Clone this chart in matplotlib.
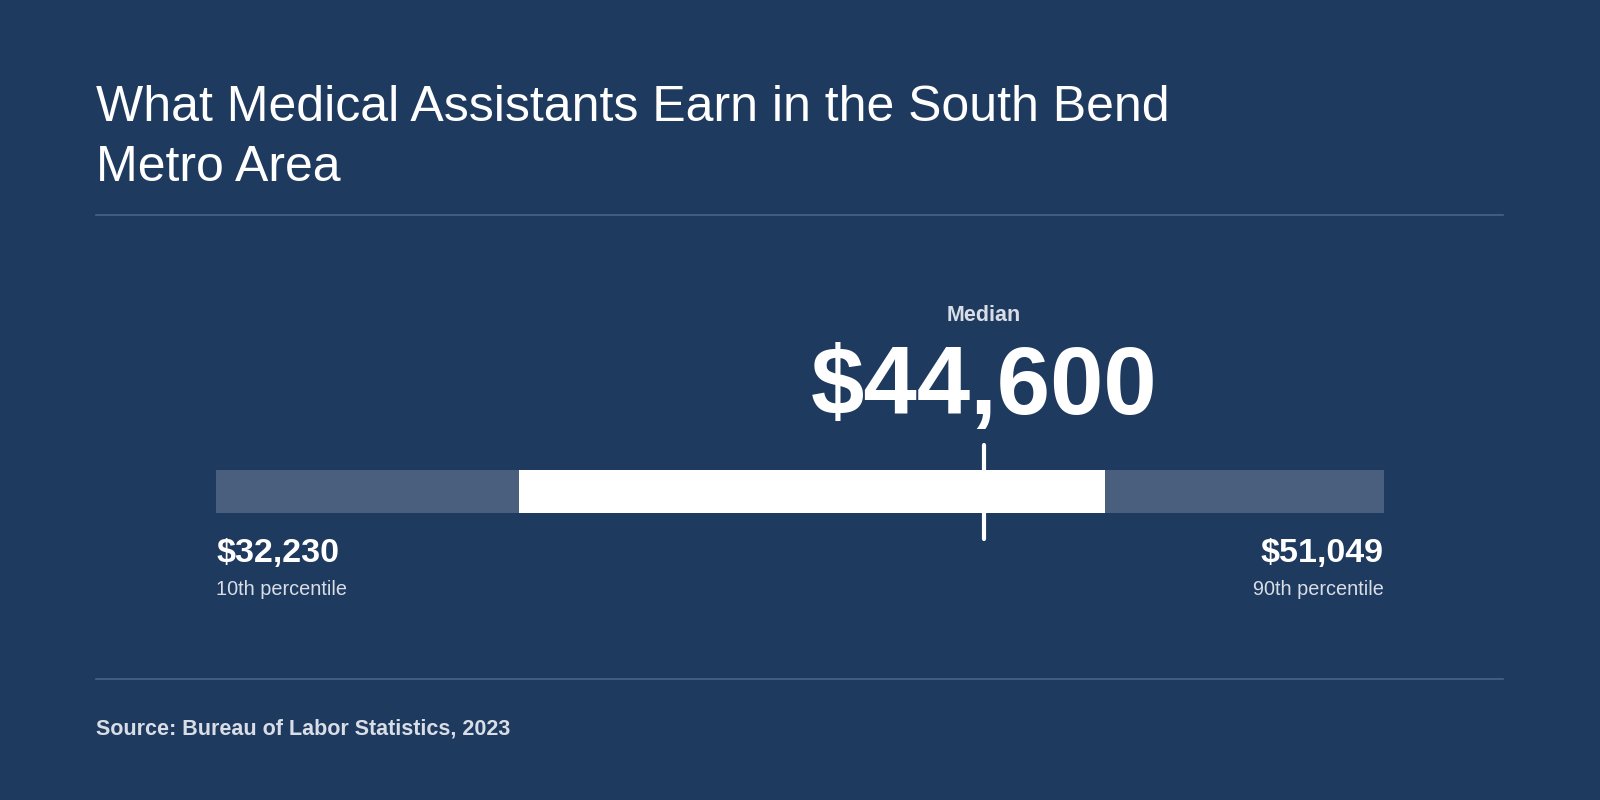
import matplotlib
matplotlib.use("Agg")
import matplotlib.pyplot as plt

title = "What Medical Assistants Earn in the South Bend\nMetro Area"
p10, p25, median, p75, p90 = 32230, 37110, 44600, 46560, 51049
labels = ["10th percentile", "90th percentile"]
source = "Source: Bureau of Labor Statistics, 2023"

BG = "#1f3a5f"
W, H = 1568, 784
plt.rcParams['font.family'] = ['Liberation Sans', 'DejaVu Sans']
fig = plt.figure(figsize=(16, 8), dpi=100, facecolor=BG)

def fx(x): return x / W
def fy(y): return 1 - y / H

fig.text(fx(94), fy(135), title, color="white", fontsize=36, va="center", linespacing=1.4)
fig.add_artist(plt.Line2D([fx(94), fx(1473)], [fy(211)] * 2, color="#4a6385", lw=1.2))
fig.add_artist(plt.Line2D([fx(94), fx(1473)], [fy(665)] * 2, color="#4a6385", lw=1.2))
fig.text(fx(94), fy(714), source, color="#d8dde6", fontsize=15.5, fontweight="bold", va="center")

ax = fig.add_axes([fx(212), 0, (1356 - 212) / W, 1])
ax.set_xlim(p10, p90)
ax.set_ylim(H, 0)
ax.axis("off")
ax.barh(482, p90 - p10, left=p10, height=42, color="#4a5f7e", linewidth=0)
ax.barh(482, p75 - p25, left=p25, height=42, color="white", linewidth=0)
ax.plot([median, median], [436, 528], color="white", lw=3, solid_capstyle="round")
ax.text(median, 309, "Median", color="#d8dde6", fontsize=15.5, fontweight="bold", ha="center", va="center")
ax.text(median, 381, f"${median:,}", color="white", fontsize=69, fontweight="bold", ha="center", va="center")
ax.text(p10, 542, f"${p10:,}", color="white", fontsize=24.5, fontweight="bold", ha="left", va="center")
ax.text(p90, 542, f"${p90:,}", color="white", fontsize=24.5, fontweight="bold", ha="right", va="center")
ax.text(p10, 578, labels[0], color="#d8dde6", fontsize=14.3, ha="left", va="center")
ax.text(p90, 578, labels[1], color="#d8dde6", fontsize=14.3, ha="right", va="center")

fig.savefig("out.png", facecolor=BG)
